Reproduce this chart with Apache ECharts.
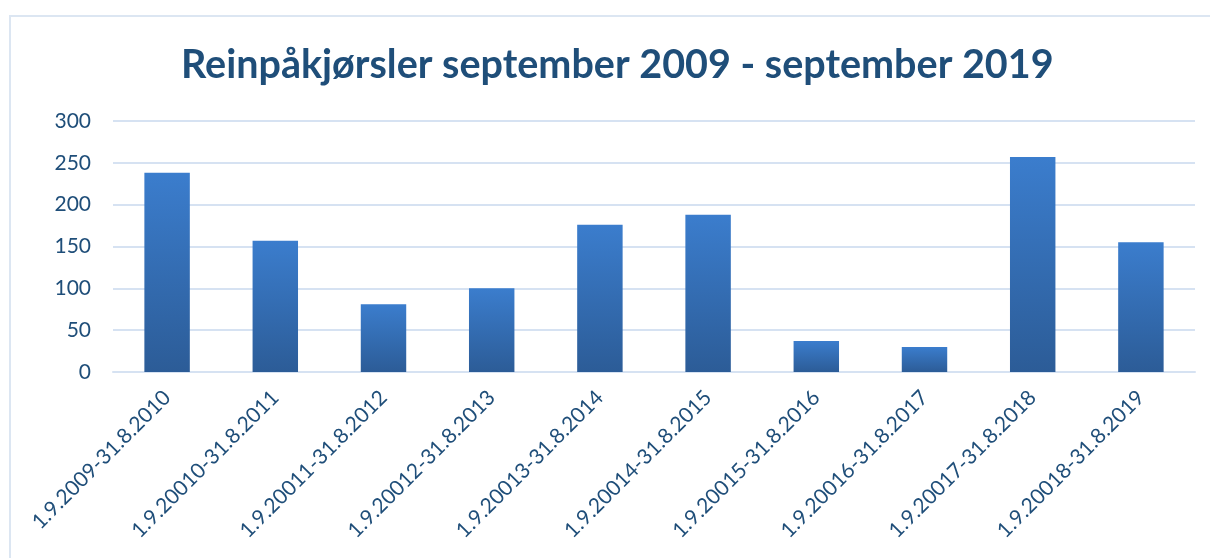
<!DOCTYPE html>
<html>
<head>
<meta charset="utf-8">
<script src="https://cdn.jsdelivr.net/npm/echarts@6/dist/echarts.min.js"></script>
<style>
  html, body { margin: 0; padding: 0; background: #fff; overflow: hidden; }
  #frame { position: absolute; left: 9px; top: 15px; width: 1230px; height: 560px; border: 2px solid #dce6f2; box-sizing: border-box; }
  #chart { position: absolute; left: 0; top: 0; width: 1210px; height: 558px; }
</style>
</head>
<body>
<div id="frame"></div>
<div id="chart"></div>
<script>
    var periods = ['1.9.2009-31.8.2010', '1.9.20010-31.8.2011', '1.9.20011-31.8.2012', '1.9.20012-31.8.2013',
        '1.9.20013-31.8.2014', '1.9.20014-31.8.2015', '1.9.20015-31.8.2016', '1.9.20016-31.8.2017',
        '1.9.20017-31.8.2018', '1.9.20018-31.8.2019'];
    var collisions = [238, 157, 81, 100, 176, 188, 37, 30, 257, 155];

    var myChart = echarts.init(document.getElementById('chart'));
    var option;

    option = {
        title: {
            text: 'Reinpåkjørsler september 2009 - september 2019',
            left: 176,
            top: 40,
            textStyle: {
                fontFamily: 'Lato',
                fontWeight: 'bold',
                fontSize: 39.5,
                color: '#1f4e79'
            }
        },
        grid: {
            left: 113,
            right: 15,
            top: 121,
            bottom: 186
        },
        xAxis: {
            type: 'category',
            data: periods,
            axisLine: { lineStyle: { color: '#d6e2f2', width: 2 } },
            axisTick: { show: false },
            axisLabel: {
                rotate: 45,
                interval: 0,
                margin: 22,
                fontFamily: 'Lato',
                fontSize: 21,
                color: '#1f4e79'
            }
        },
        yAxis: {
            type: 'value',
            min: 0,
            max: 300,
            interval: 50,
            axisLine: { show: false },
            axisTick: { show: false },
            splitLine: { lineStyle: { color: '#d6e2f2', width: 2 } },
            axisLabel: {
                margin: 22,
                fontFamily: 'Lato',
                fontSize: 21,
                color: '#1f4e79'
            }
        },
        series: [{
            type: 'bar',
            data: collisions,
            barWidth: '42%',
            itemStyle: {
                color: new echarts.graphic.LinearGradient(0, 0, 0, 1, [
                    { offset: 0, color: '#3b7dcd' },
                    { offset: 1, color: '#2c5c97' }
                ]),
                shadowColor: 'rgba(0,0,0,0.25)',
                shadowBlur: 6,
                shadowOffsetY: 2
            }
        }]
    };

    option && myChart.setOption(option);
</script>
</body>
</html>
